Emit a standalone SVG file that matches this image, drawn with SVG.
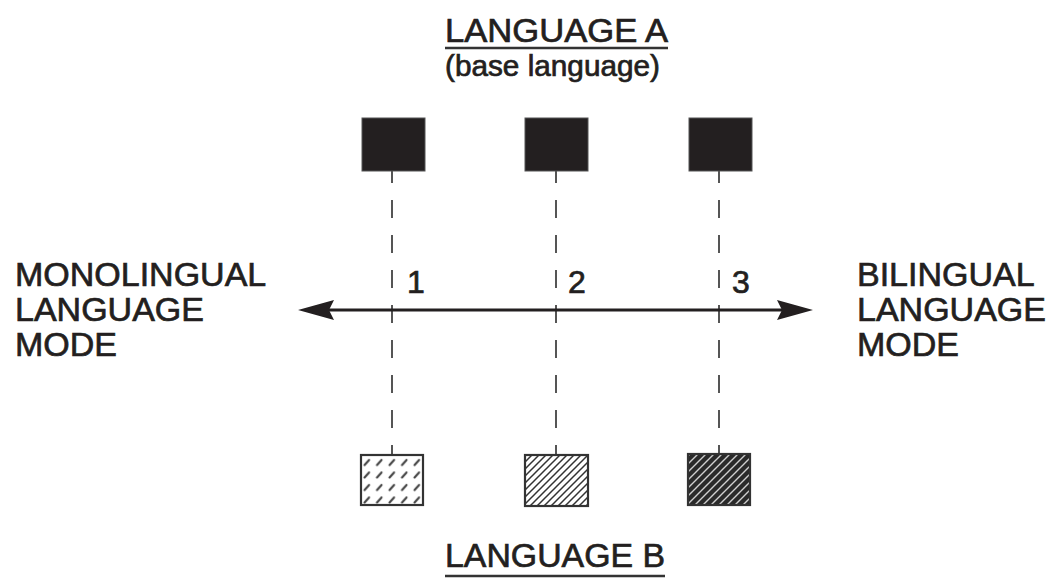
<svg xmlns="http://www.w3.org/2000/svg" width="1051" height="578" viewBox="0 0 1051 578">
<style>
  .t { font-family: "Liberation Sans", Arial, sans-serif; fill: #231f20; stroke: #231f20; stroke-width: 0.7; }
  .big { font-size: 34px; }
  .sub { font-size: 29px; }
  .num { font-size: 32px; }
  .sq { fill: #231f20; stroke: #555; stroke-width: 1; }
  .box { stroke: #333; stroke-width: 2.2; }
  .dash { stroke: #555; stroke-width: 2; stroke-dasharray: 18 17; stroke-dashoffset: 6; fill: none; }
  .axis { stroke: #231f20; stroke-width: 3; fill: none; }
  .ul { stroke: #333; stroke-width: 2.5; }
</style>
<defs>
  <marker id="ah" markerUnits="userSpaceOnUse" markerWidth="36" markerHeight="22" viewBox="0 0 36 22" refX="5" refY="11" orient="auto-start-reverse">
    <path d="M0,1 L36,11 L0,21 L5,11 z" fill="#231f20"/>
  </marker>
  <pattern id="p1" patternUnits="userSpaceOnUse" width="12.5" height="12.5" x="361" y="455">
    <line x1="3.5" y1="10" x2="8" y2="5" stroke="#444" stroke-width="2.2" stroke-linecap="round"/>
  </pattern>
  <pattern id="p2" patternUnits="userSpaceOnUse" width="7" height="7">
    <path d="M-1,8 L8,-1 M-2,2 L2,-2 M5,9 L9,5" stroke="#333" stroke-width="1.5"/>
  </pattern>
  <pattern id="p3" patternUnits="userSpaceOnUse" width="8" height="8">
    <rect width="8" height="8" fill="#2a2a2a"/>
    <path d="M-1,9 L9,-1 M-2,2 L2,-2 M6,10 L10,6" stroke="#cfcfcf" stroke-width="1.4"/>
  </pattern>
</defs>

<g id="connectors">
  <line class="dash" x1="392" y1="171" x2="392" y2="455"/>
  <line class="dash" x1="556" y1="171" x2="556" y2="455"/>
  <line class="dash" x1="719" y1="171" x2="719" y2="455"/>
  <line id="axis" class="axis" x1="329" y1="310" x2="782" y2="310" marker-start="url(#ah)" marker-end="url(#ah)"/>
</g>

<g id="title-a">
  <text class="t big" x="445" y="42" textLength="223" lengthAdjust="spacingAndGlyphs">LANGUAGE A</text>
  <line class="ul" x1="445" y1="48" x2="668" y2="48"/>
  <text class="t sub" x="445" y="76" textLength="215" lengthAdjust="spacingAndGlyphs">(base language)</text>
</g>

<g id="node-a1"><rect class="sq" x="362" y="118" width="63" height="53"/></g>
<g id="node-a2"><rect class="sq" x="525" y="118" width="63" height="53"/></g>
<g id="node-a3"><rect class="sq" x="689" y="118" width="63" height="53"/></g>

<g id="node-b1"><rect class="box" x="361" y="455" width="62" height="50" fill="url(#p1)"/></g>
<g id="node-b2"><rect class="box" x="525" y="455" width="63" height="51" fill="url(#p2)"/></g>
<g id="node-b3"><rect class="box" x="688" y="454" width="62" height="51" fill="url(#p3)"/></g>

<g id="label-mono">
  <text class="t big" x="15" y="286">MONOLINGUAL</text>
  <text class="t big" x="15" y="321">LANGUAGE</text>
  <text class="t big" x="15" y="356">MODE</text>
</g>
<g id="label-bi">
  <text class="t big" x="857" y="286">BILINGUAL</text>
  <text class="t big" x="857" y="321">LANGUAGE</text>
  <text class="t big" x="857" y="356">MODE</text>
</g>

<g id="numbers">
  <text class="t num" x="407" y="293">1</text>
  <text class="t num" x="568" y="293">2</text>
  <text class="t num" x="732" y="293">3</text>
</g>

<g id="title-b">
  <text class="t big" x="445" y="567" textLength="220" lengthAdjust="spacingAndGlyphs">LANGUAGE B</text>
  <line class="ul" x1="445" y1="576" x2="665" y2="576"/>
</g>
</svg>
